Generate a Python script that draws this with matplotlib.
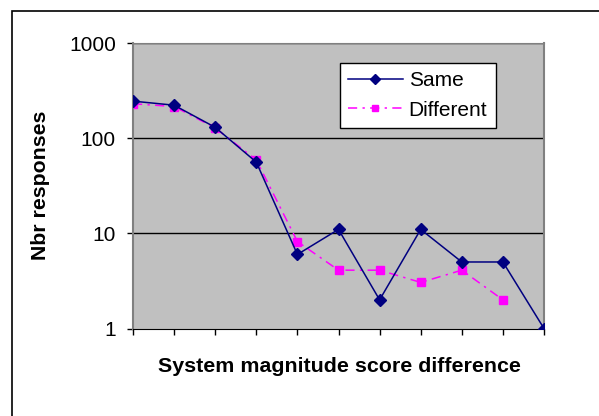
import matplotlib.pyplot as plt
import numpy as np

plt.rcParams['font.family'] = ['Liberation Sans', 'DejaVu Sans']

# data
diff = list(range(11))
same = [245, 222, 130, 56, 6, 11, 2, 11, 5, 5, 1]
different = [230, 215, 128, 59, 8.2, 4.1, 4.1, 3.05, 4.1, 2]

fig = plt.figure(figsize=(5.99, 4.16), dpi=100)

# outer chart border (runs off right/bottom edge like the original)
fig.patches.append(plt.Rectangle((12 / 599, -0.1), 1.0, (416 - 11) / 416 + 0.1,
                                 transform=fig.transFigure, fill=False,
                                 edgecolor='black', linewidth=1.2))

ax = fig.add_axes([133 / 599, 87.5 / 416, 411 / 599, 285.5 / 416])
ax.set_facecolor('#c0c0c0')

ax.set_yscale('log')
ax.set_ylim(1, 1000)
ax.set_xlim(0, 10)

for v in [10, 100, 1000]:
    ax.axhline(v, color='black', linewidth=1, zorder=1)

ax.plot(diff, same, color='#000080', linewidth=1.1, marker='D', markersize=6.5,
        markerfacecolor='#000080', markeredgecolor='#000080', label='Same', zorder=3)
ax.plot(diff[:len(different)], different, color='#ff00ff', linewidth=1.1,
        linestyle=(0, (6, 3.5, 1.5, 3.5)), marker='s', markersize=6,
        markerfacecolor='#ff00ff', markeredgecolor='#ff00ff', label='Different', zorder=2)

ax.set_yticks([1, 10, 100, 1000])
ax.set_yticklabels(['1', '10', '100', '1000'])
ax.yaxis.set_minor_locator(plt.NullLocator())
ax.set_xticks(diff)
ax.set_xticklabels([])

ax.tick_params(axis='y', direction='out', length=4.3, width=1, labelsize=15, pad=8)
ax.tick_params(axis='x', direction='out', length=4.5, width=1)

ax.spines['left'].set_color('#808080')
ax.spines['left'].set_linewidth(1.5)
ax.spines['top'].set_color('#808080')
ax.spines['right'].set_color('#808080')
ax.spines['right'].set_linewidth(1.5)
ax.spines['bottom'].set_color('black')

ax.set_ylabel('Nbr responses', fontsize=15.3, fontweight='bold', va='center')
ax.yaxis.set_label_coords((41 - 133) / 411, (328.5 - 185) / 285.5)
ax.set_xlabel('System magnitude score difference', fontsize=15.4, fontweight='bold', va='center')
ax.xaxis.set_label_coords((339 - 133) / 411, (328.5 - 367) / 285.5)

leg = ax.legend(loc='upper left', bbox_to_anchor=((340 - 133) / 411, (328.5 - 63) / 285.5),
                borderaxespad=0, fontsize=15, frameon=True, fancybox=False, framealpha=1,
                handlelength=2.6, borderpad=0.4, labelspacing=0.5, handletextpad=0.3,
                markerscale=0.8)
leg.get_frame().set_edgecolor('black')
leg.get_frame().set_facecolor('white')
leg.get_frame().set_linewidth(1)

fig.savefig('out.png', dpi=100)
